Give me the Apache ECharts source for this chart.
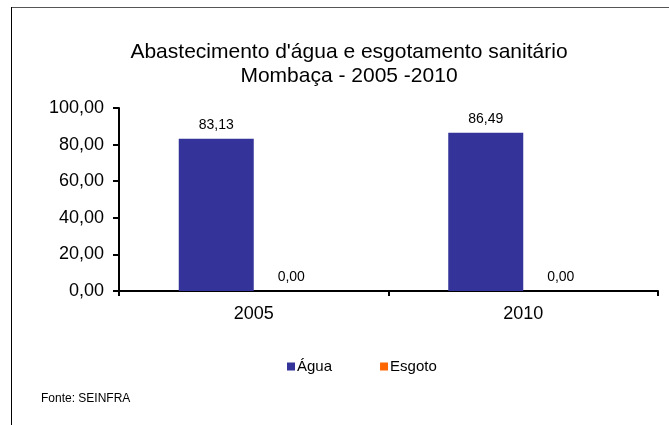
<!DOCTYPE html>
<html><head><meta charset="utf-8">
<script src="https://cdn.jsdelivr.net/npm/echarts@6/dist/echarts.min.js"></script>
<style>html,body{margin:0;padding:0;background:#fff}#c{width:669px;height:425px}</style>
</head><body><div id="c"></div>
<script>
var categories = ['2005', '2010'];
var agua = [83.13, 86.49];
var esgoto = [0.00, 0.00];
var yTicks = [0, 20, 40, 60, 80, 100];

function fmt(v){ return Number(v).toFixed(2).replace('.', ','); }
var ff = '"Liberation Sans", Arial, sans-serif';
var chart = echarts.init(document.getElementById('c'), null, {renderer:'canvas'});
chart.setOption({
  animation: false,
  backgroundColor: '#fff',
  textStyle: {fontFamily: ff},
  title: {
    text: "Abastecimento d'água e esgotamento sanitário\nMombaça - 2005 -2010",
    left: 344, top: 35, textAlign: 'center',
    textStyle: {fontFamily: ff, fontSize: 21, fontWeight: 'normal', color: '#000', lineHeight: 24}
  },
  legend: {
    data: ['Água', 'Esgoto'], top: 354, left: 282,
    itemWidth: 8, itemHeight: 8, itemGap: 48, icon: 'rect',
    textStyle: {fontFamily: ff, fontSize: 15, color: '#000', padding: [0,0,0,-3]}
  },
  grid: {left: 119, right: 11, top: 108, bottom: 134, containLabel: false},
  xAxis: {
    type: 'category', data: categories,
    axisLine: {lineStyle: {color: '#000', width: 2}},
    axisTick: {show: true, length: 5, lineStyle: {color: '#000', width: 2}},
    axisLabel: {fontFamily: ff, fontSize: 18, color: '#000', margin: 14}
  },
  yAxis: {
    type: 'value', min: yTicks[0], max: yTicks[yTicks.length-1], interval: 20,
    axisLine: {show: true, lineStyle: {color: '#000', width: 2}},
    axisTick: {show: true, length: 6, lineStyle: {color: '#000', width: 2}},
    splitLine: {show: false},
    axisLabel: {fontFamily: ff, fontSize: 18, color: '#000', margin: 15, formatter: fmt}
  },
  series: [
    {name: 'Água', type: 'bar', data: agua, barWidth: 75, barGap: '0%',
     itemStyle: {color: '#333399'},
     label: {show: true, position: 'top', distance: 7, fontFamily: ff, fontSize: 14, color: '#000', formatter: function(p){return fmt(p.value);}}},
    {name: 'Esgoto', type: 'bar', data: esgoto, barWidth: 75,
     itemStyle: {color: '#FF6600'},
     label: {show: true, position: 'top', distance: 7, fontFamily: ff, fontSize: 14, color: '#000', formatter: function(p){return fmt(p.value);}}}
  ],
  graphic: [
    {type: 'line', shape: {x1: 11, y1: 7.5, x2: 669, y2: 7.5}, style: {stroke: '#555', lineWidth: 1}},
    {type: 'line', shape: {x1: 11.5, y1: 7, x2: 11.5, y2: 425}, style: {stroke: '#000', lineWidth: 1}},
    {type: 'text', left: 41, top: 393, style: {text: 'Fonte: SEINFRA', font: '12px ' + ff, fill: '#000'}}
  ]
});
</script></body></html>
